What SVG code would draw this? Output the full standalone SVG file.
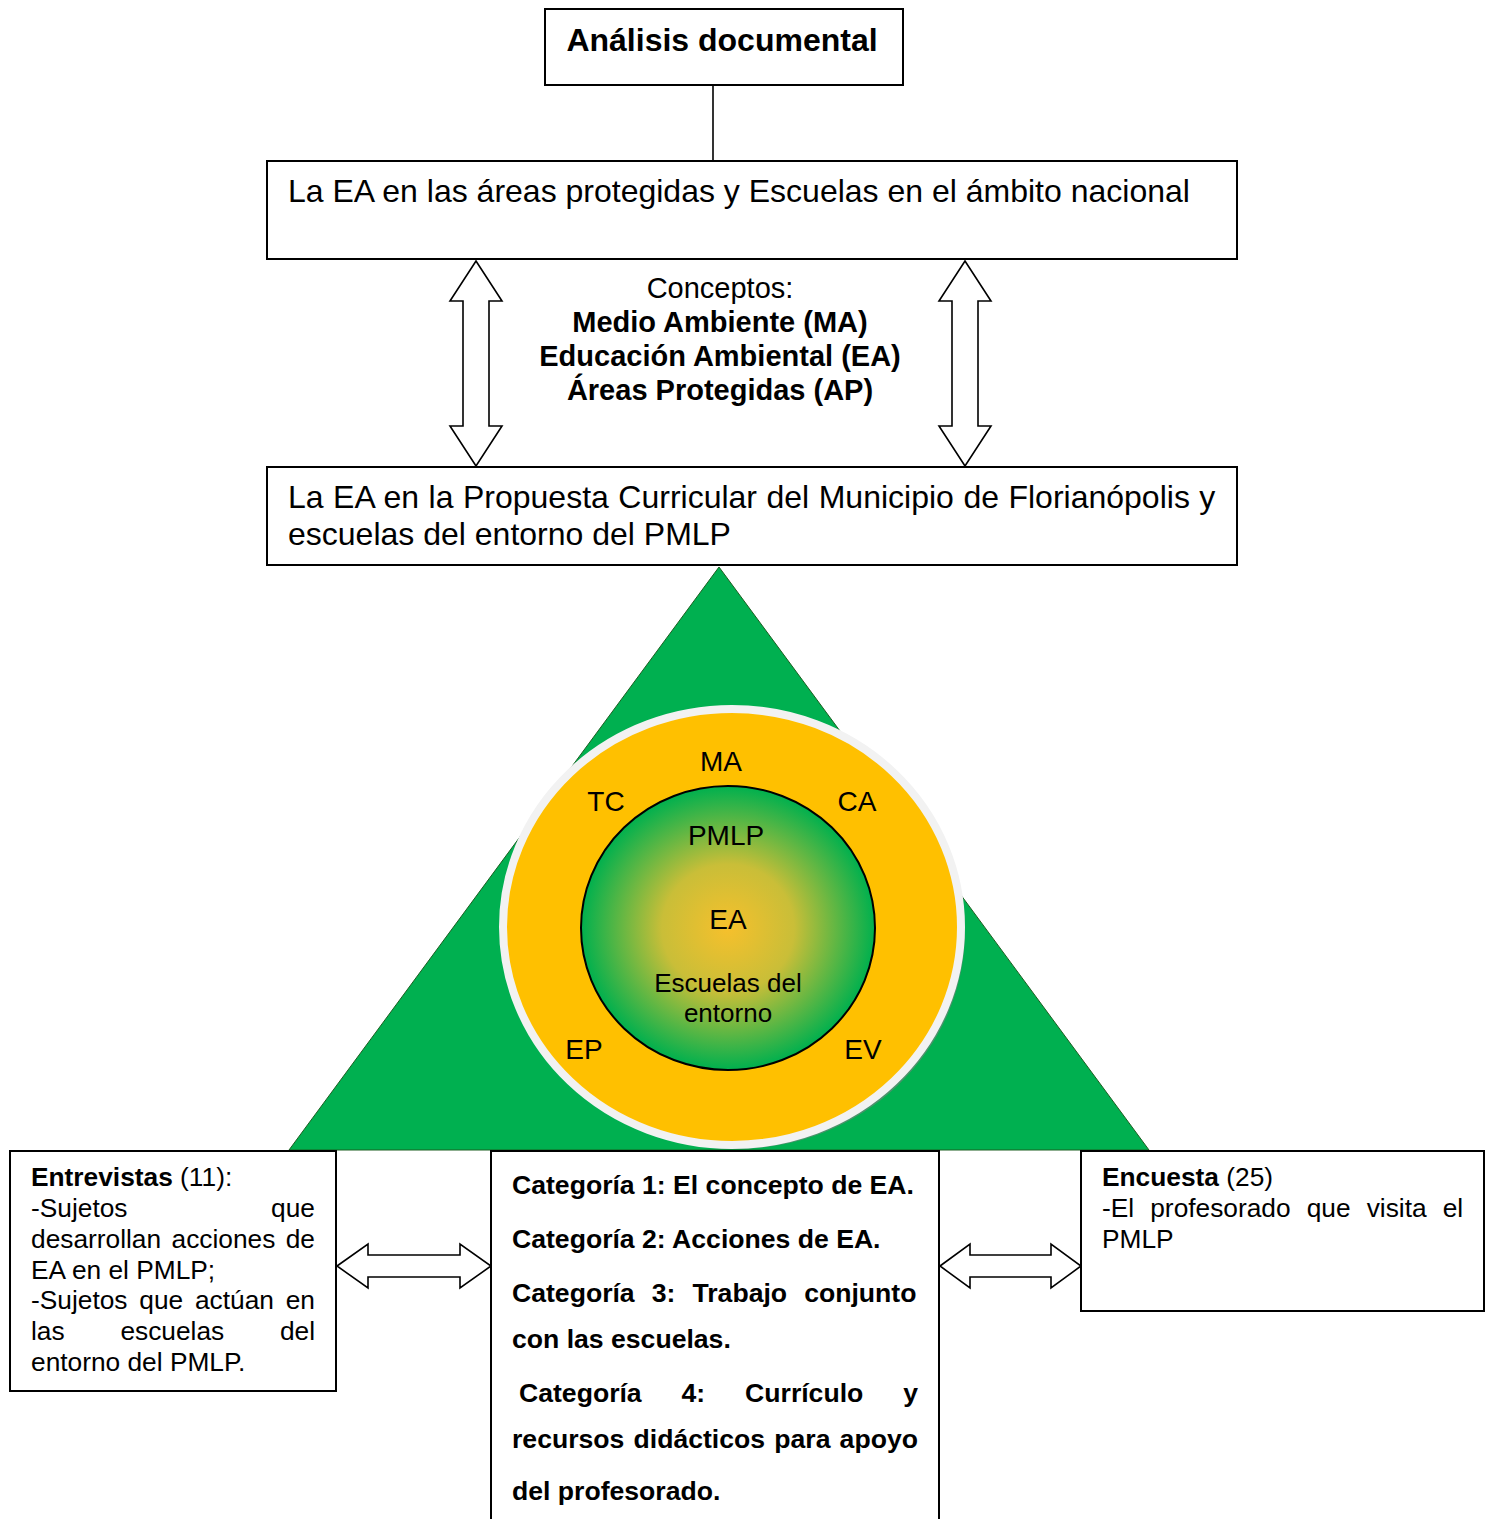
<svg xmlns="http://www.w3.org/2000/svg" width="1493" height="1519" viewBox="0 0 1493 1519">
<style>
text{font-family:"Liberation Sans",Arial,sans-serif;fill:#000}
.box{fill:#fff;stroke:#000;stroke-width:2}
.arr{fill:#fff;stroke:#000;stroke-width:1.6;stroke-linejoin:miter}
.b{font-weight:bold}
.t32{font-size:32px}
.t29{font-size:29px}
.t28{font-size:28px;text-anchor:middle}
.t26{font-size:26.3px}
.tb{font-size:26.6px;font-weight:bold}
.c{text-anchor:middle}
.e{text-anchor:end}
</style>
<defs>
<radialGradient id="g" cx="50%" cy="50%" r="50%">
<stop offset="0" stop-color="#F6C02C"/>
<stop offset="0.45" stop-color="#C9BE38"/>
<stop offset="1" stop-color="#00B04E"/>
</radialGradient>
</defs>
<rect width="1493" height="1519" fill="#fff"/>

<g id="triangle">
<polygon points="719,567 1149,1150 289,1150" fill="#00B050" stroke="#1b5e20" stroke-width="1"/>
</g>

<g id="circle">
<ellipse cx="736" cy="931" rx="229" ry="218" fill="#7f7f7f" opacity="0.6"/>
<ellipse cx="732" cy="927" rx="229" ry="218" fill="#FFC000" stroke="#F2F2F2" stroke-width="8"/>
<ellipse cx="728" cy="928" rx="147" ry="142" fill="url(#g)" stroke="#000" stroke-width="2"/>
<text class="t28" x="721" y="771">MA</text>
<text class="t28" x="606" y="811">TC</text>
<text class="t28" x="857" y="811">CA</text>
<text class="t28" x="726" y="845">PMLP</text>
<text class="t28" x="728" y="929">EA</text>
<text class="c" style="font-size:26px" x="728" y="992">Escuelas del</text>
<text class="c" style="font-size:26px" x="728" y="1022">entorno</text>
<text class="t28" x="584" y="1059">EP</text>
<text class="t28" x="863" y="1059">EV</text>
</g>

<g id="connectors">
<line x1="713" y1="85" x2="713" y2="161" stroke="#000" stroke-width="1.6"/>
<polygon class="arr" points="476,261 502,301 489,301 489,426 502,426 476,466 450,426 463,426 463,301 450,301"/>
<polygon class="arr" points="965,261 991,301 978,301 978,426 991,426 965,466 939,426 952,426 952,301 939,301"/>
<polygon class="arr" points="337,1266 368,1244 368,1255 460,1255 460,1244 491,1266 460,1288 460,1277 368,1277 368,1288"/>
<polygon class="arr" points="940,1266 970,1244 970,1255 1051,1255 1051,1244 1081,1266 1051,1288 1051,1277 970,1277 970,1288"/>
</g>

<g id="analisis">
<rect class="box" x="545" y="9" width="358" height="76"/>
<text class="t32 b c" x="722" y="51">Análisis documental</text>
</g>

<g id="ambito-nacional">
<rect class="box" x="267" y="161" width="970" height="98"/>
<text class="t32" x="288" y="202">La EA en las áreas protegidas y Escuelas en el ámbito nacional</text>
</g>

<g id="conceptos">
<text class="t29 c" x="720" y="298">Conceptos:</text>
<text class="t29 b c" x="720" y="332">Medio Ambiente (MA)</text>
<text class="t29 b c" x="720" y="366">Educación Ambiental (EA)</text>
<text class="t29 b c" x="720" y="400">Áreas Protegidas (AP)</text>
</g>

<g id="propuesta">
<rect class="box" x="267" y="467" width="970" height="98"/>
<text class="t32" x="288" y="508" word-spacing="0.6">La EA en la Propuesta Curricular del Municipio de Florianópolis y</text>
<text class="t32" x="288" y="545">escuelas del entorno del PMLP</text>
</g>

<g id="entrevistas">
<rect class="box" x="10" y="1151" width="326" height="240"/>
<text class="t26" x="31" y="1186"><tspan class="b">Entrevistas</tspan> (11):</text>
<text class="t26" x="31" y="1217">-Sujetos</text>
<text class="t26 e" x="315" y="1217">que</text>
<text class="t26" x="31" y="1248" word-spacing="3.1">desarrollan acciones de</text>
<text class="t26" x="31" y="1279">EA en el PMLP;</text>
<text class="t26" x="31" y="1309" word-spacing="4.5">-Sujetos que actúan en</text>
<text class="t26" x="31" y="1340">las</text>
<text class="t26" x="120.4" y="1340">escuelas</text>
<text class="t26 e" x="315" y="1340">del</text>
<text class="t26" x="31" y="1371">entorno del PMLP.</text>
</g>

<g id="categorias">
<rect class="box" x="491" y="1151" width="448" height="390"/>
<text class="tb" x="512" y="1194">Categoría 1: El concepto de EA.</text>
<text class="tb" x="512" y="1248">Categoría 2: Acciones de EA.</text>
<text class="tb" x="512" y="1302" word-spacing="9.7">Categoría 3: Trabajo conjunto</text>
<text class="tb" x="512" y="1348">con las escuelas.</text>
<text class="tb" x="519" y="1402" word-spacing="32.5">Categoría 4: Currículo y</text>
<text class="tb" x="512" y="1448" word-spacing="1.8">recursos didácticos para apoyo</text>
<text class="tb" x="512" y="1500">del profesorado.</text>
</g>

<g id="encuesta">
<rect class="box" x="1081" y="1151" width="403" height="160"/>
<text class="t26" x="1102" y="1186"><tspan class="b">Encuesta</tspan> (25)</text>
<text class="t26" x="1102" y="1217" word-spacing="8.8">-El profesorado que visita el</text>
<text class="t26" x="1102" y="1248">PMLP</text>
</g>
</svg>
